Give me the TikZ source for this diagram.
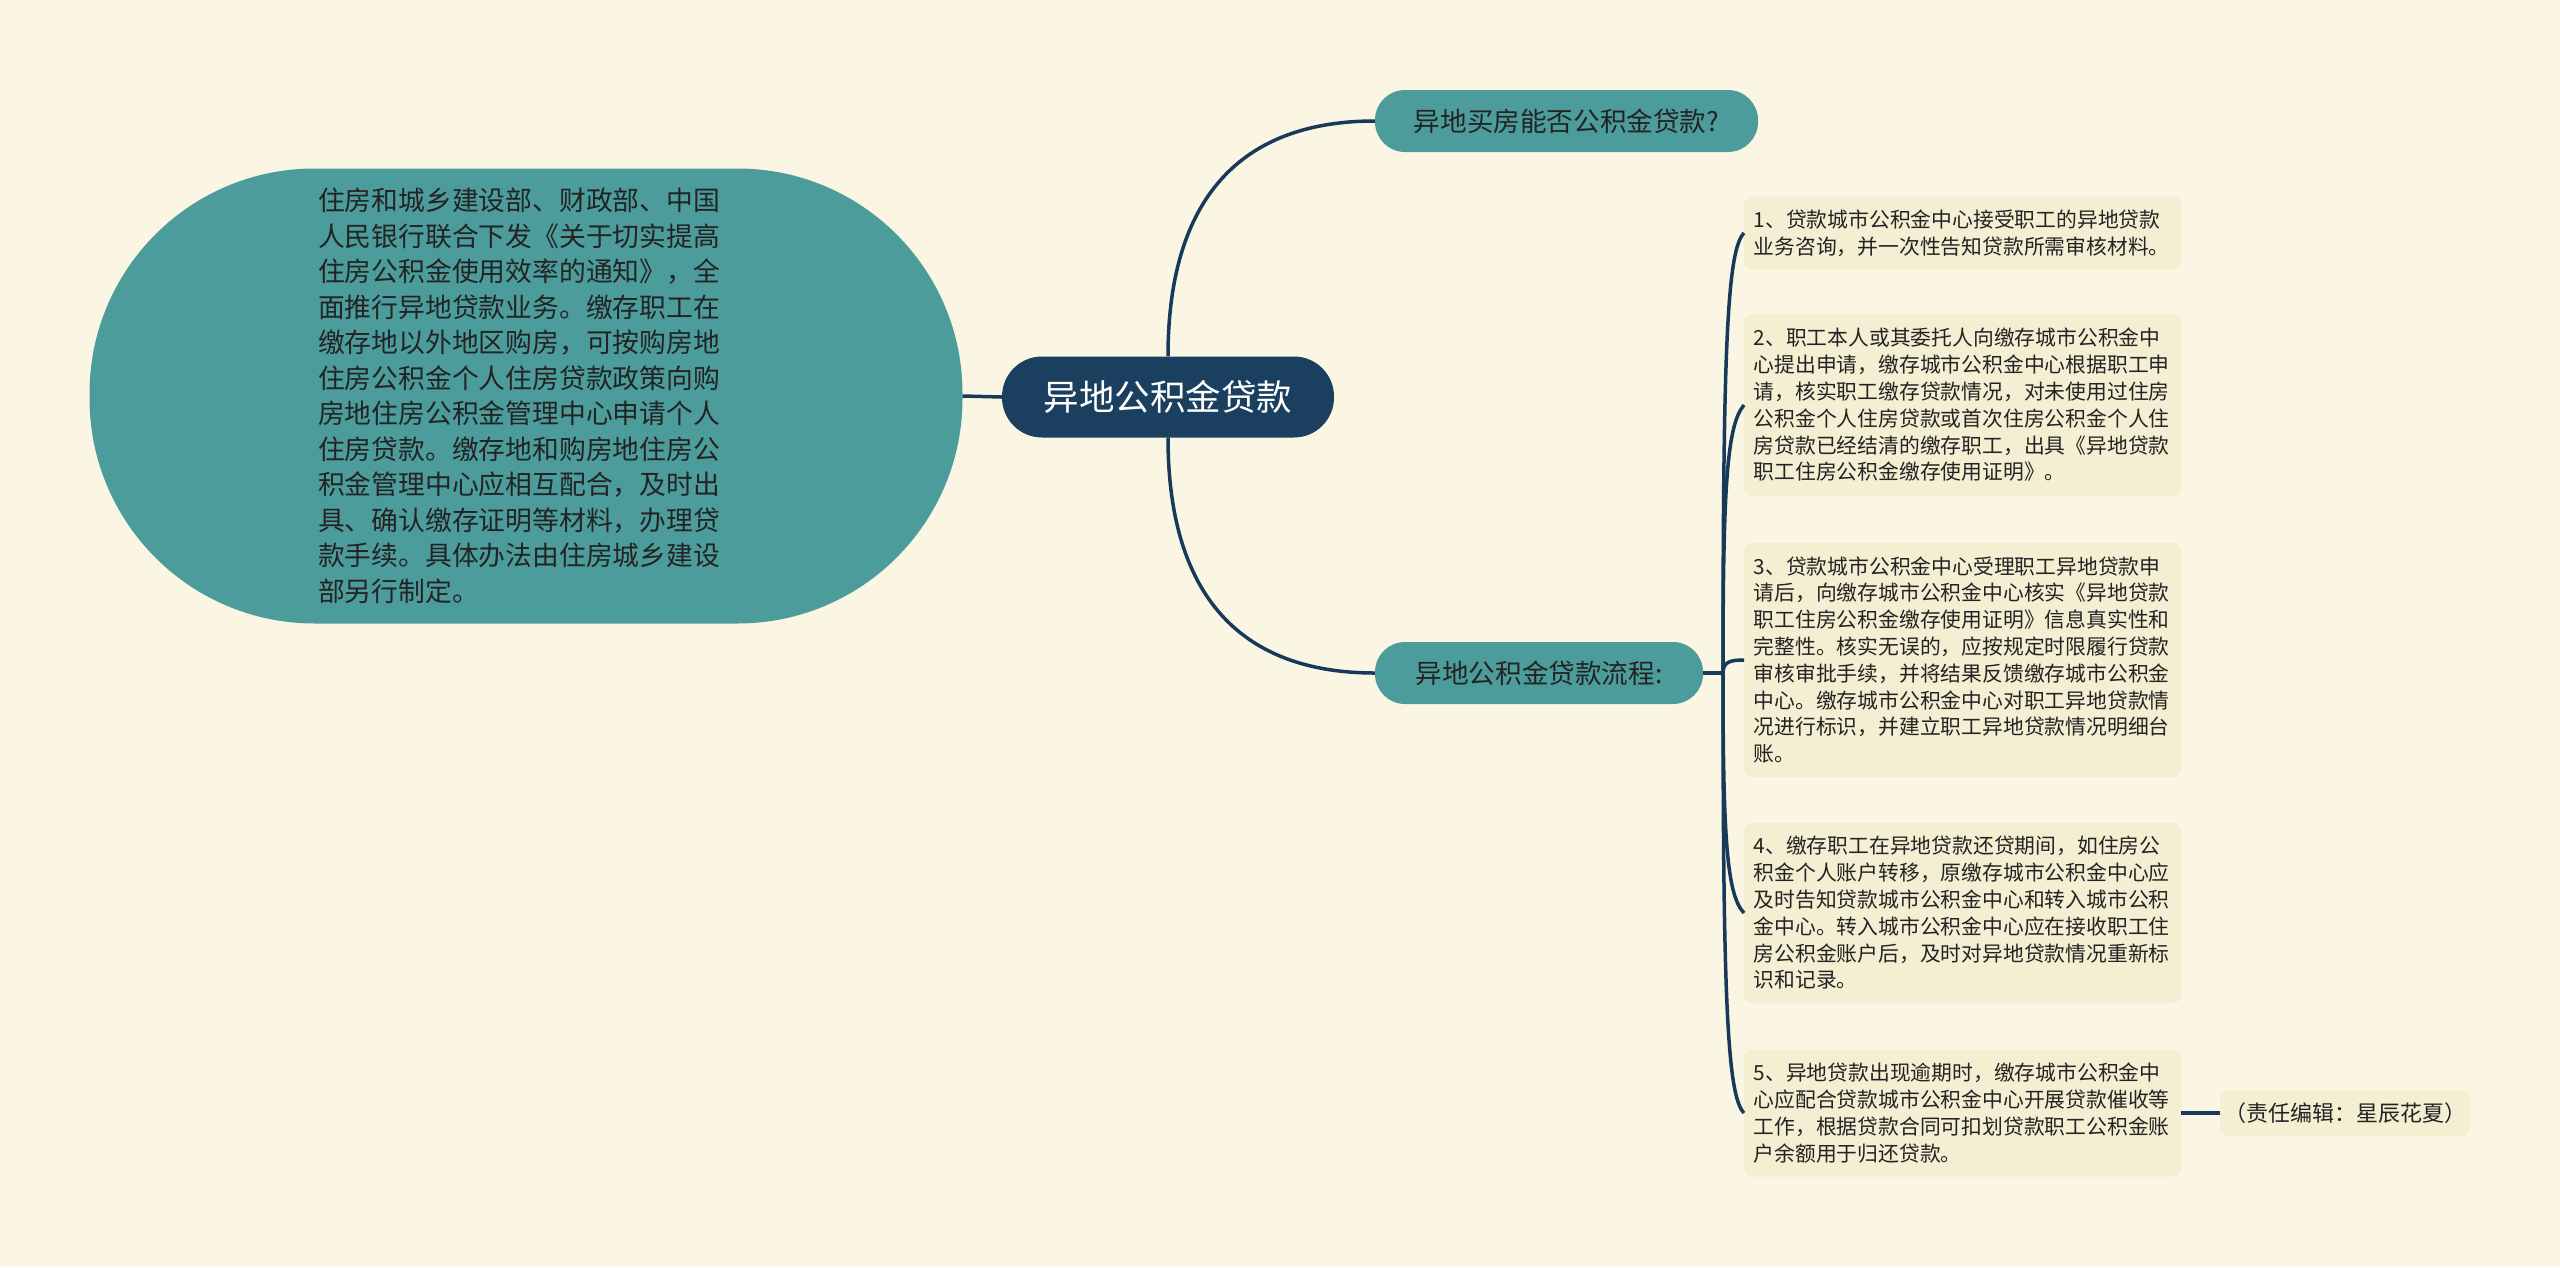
\documentclass[tikz,border=0pt]{standalone}
\usepackage{fontspec}
\setmainfont{Noto Sans CJK SC}
\definecolor{bg}{HTML}{FAF6E3}
\definecolor{teal}{HTML}{4D9C9C}
\definecolor{navy}{HTML}{1A3F5F}
\definecolor{linec}{HTML}{17395A}
\definecolor{leaffill}{HTML}{F4EED2}
\definecolor{txt}{HTML}{232323}
\begin{document}
\begin{tikzpicture}[x=1pt,y=-1pt,
  conn/.style={draw=linec, line width=3.5pt},
  bignode/.style={fill=teal, rounded corners=225pt, minimum width=873pt, minimum height=455pt,
    text width=416pt, align=left, inner sep=0pt, text=txt, font=\fontsize{26.8pt}{35.5pt}\selectfont},
  rootnode/.style={fill=navy, rounded corners=40pt, minimum width=332pt, minimum height=81pt,
    inner sep=0pt, text=white, font=\fontsize{35.5pt}{40pt}\selectfont},
  branchnode/.style={fill=teal, rounded corners=30pt, minimum height=62pt,
    inner sep=0pt, text=txt, font=\fontsize{26.6pt}{30pt}\selectfont},
  leafnode/.style={fill=leaffill, rounded corners=8pt, text width=418pt, align=left,
    inner xsep=9.5pt, inner ysep=0pt, anchor=west, text=txt, font=\fontsize{20.8pt}{26.8pt}\selectfont},
  editnode/.style={fill=leaffill, rounded corners=8pt, minimum width=250pt, minimum height=45pt,
    inner sep=0pt, text=txt, font=\fontsize{22pt}{26pt}\selectfont}]
\path[use as bounding box, fill=bg] (0,0) rectangle (2560,1267);

\node[rootnode] (root) at (1168,397) {异地公积金贷款};

\node[bignode] (left) at (526,396) {住房和城乡建设部、财政部、中国\\人民银行联合下发《关于切实提高\\住房公积金使用效率的通知》，全\\面推行异地贷款业务。缴存职工在\\缴存地以外地区购房，可按购房地\\住房公积金个人住房贷款政策向购\\房地住房公积金管理中心申请个人\\住房贷款。缴存地和购房地住房公\\积金管理中心应相互配合，及时出\\具、确认缴存证明等材料，办理贷\\款手续。具体办法由住房城乡建设\\部另行制定。};

\node[branchnode, minimum width=383pt] (q1) at (1566.5,121) {异地买房能否公积金贷款?};
\node[branchnode, minimum width=328pt] (q2) at (1539,673) {异地公积金贷款流程:};

\node[leafnode, minimum height=73pt] (s1) at (1744,233) {1、贷款城市公积金中心接受职工的异地贷款\\业务咨询，并一次性告知贷款所需审核材料。};
\node[leafnode, minimum height=182pt] (s2) at (1744,405) {2、职工本人或其委托人向缴存城市公积金中\\心提出申请，缴存城市公积金中心根据职工申\\请，核实职工缴存贷款情况，对未使用过住房\\公积金个人住房贷款或首次住房公积金个人住\\房贷款已经结清的缴存职工，出具《异地贷款\\职工住房公积金缴存使用证明》。};
\node[leafnode, minimum height=234pt] (s3) at (1744,660) {3、贷款城市公积金中心受理职工异地贷款申\\请后，向缴存城市公积金中心核实《异地贷款\\职工住房公积金缴存使用证明》信息真实性和\\完整性。核实无误的，应按规定时限履行贷款\\审核审批手续，并将结果反馈缴存城市公积金\\中心。缴存城市公积金中心对职工异地贷款情\\况进行标识，并建立职工异地贷款情况明细台\\账。};
\node[leafnode, minimum height=180pt] (s4) at (1744,913) {4、缴存职工在异地贷款还贷期间，如住房公\\积金个人账户转移，原缴存城市公积金中心应\\及时告知贷款城市公积金中心和转入城市公积\\金中心。转入城市公积金中心应在接收职工住\\房公积金账户后，及时对异地贷款情况重新标\\识和记录。};
\node[leafnode, minimum height=127pt] (s5) at (1744,1113) {5、异地贷款出现逾期时，缴存城市公积金中\\心应配合贷款城市公积金中心开展贷款催收等\\工作，根据贷款合同可扣划贷款职工公积金账\\户余额用于归还贷款。};

\node[editnode] (ed) at (2345,1113) {（责任编辑：星辰花夏）};

\coordinate (j) at (1723,673);

\draw[conn] (root.west) -- (left.east);
\draw[conn] (root.north) .. controls +(0,-157) and +(-135,0) .. (q1.west);
\draw[conn] (root.south) .. controls +(0,157) and +(-135,0) .. (q2.west);
\draw[conn] (q2.east) -- (j);
\draw[conn] (j) .. controls +(0,-323) and +(-17,17) .. (s1.west);
\draw[conn] (j) .. controls +(0,-188) and +(-17,20) .. (s2.west);
\draw[conn] (j) .. controls +(0,-11) and +(-14,0) .. (s3.west);
\draw[conn] (j) .. controls +(0,168) and +(-17,-18) .. (s4.west);
\draw[conn] (j) .. controls +(0,323) and +(-17,-17) .. (s5.west);
\draw[conn] (s5.east) -- (ed.west);
\end{tikzpicture}
\end{document}
